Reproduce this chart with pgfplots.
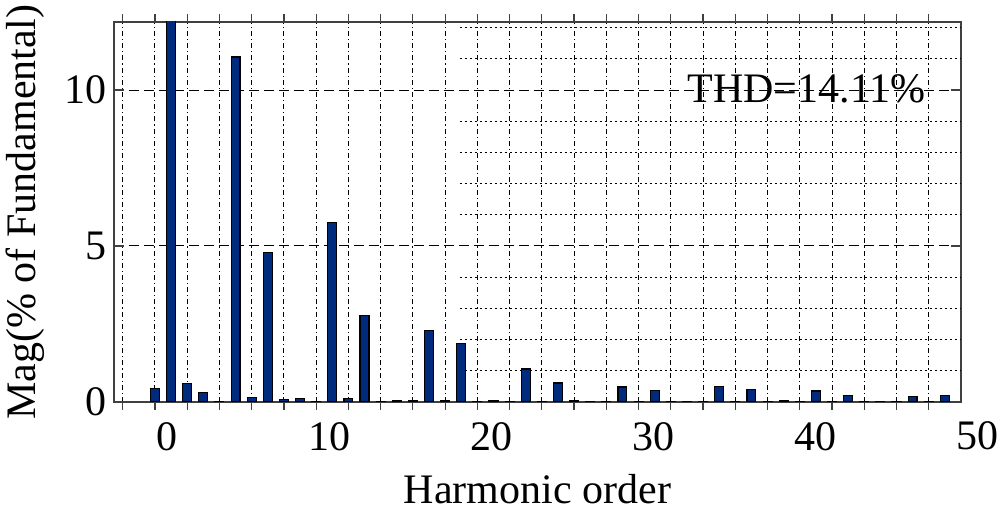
\documentclass[border=0pt]{standalone}
\usepackage{fontspec}
\setmainfont{Liberation Serif}
\usepackage{pgfplots}
\pgfplotsset{compat=1.18}
\usetikzlibrary{calc}
\definecolor{barblue}{RGB}{0,42,126}

\begin{document}
\begin{tikzpicture}[font=\fontsize{21}{25}\selectfont]
\begin{axis}[
  name=ax,
  scale only axis,
  width=423.5pt, height=190pt,
  xmin=-2.54, xmax=50, ymin=0, ymax=12.18,
  ybar, bar width=0.55,
  clip mode=individual,
  axis line style={black!75, line width=0.8pt},
  xtick={0.74,10.8,20.86,30.92,40.98},
  xticklabels={0,10,20,30,40},
  major x tick style={draw=none},
  minor xtick={-2,0,...,48},
  xminorgrids,
  minor x grid style={black, line width=0.5pt, dash pattern=on 2.5pt off 1.5pt on 0.6pt off 1.5pt},
  minor tick length=4pt,
  ytick={0,5,10}, yticklabels={0,5,10},
  ymajorgrids,
  major y grid style={black, line width=0.5pt, dash pattern=on 5pt off 2.5pt},
  major tick length=5pt,
  tick style={black!75, line width=0.6pt},
  xticklabel style={anchor=base, yshift=-19.5pt},
  xlabel={Harmonic order},
  xlabel style={at={(rel axis cs:0.5,0)}, anchor=base, yshift=-51pt},
]
% dotted minor horizontal grid on the right part
\pgfplotsinvokeforeach{1,2,3,4,6,7,8,9,11,12}{
  \draw[black, line width=0.5pt, dash pattern=on 1pt off 1.5pt] (axis cs:18.9,#1) -- (axis cs:50,#1);
}
\addplot[fill=barblue, draw=black, line width=0.6pt] table {
h mag
0 0.43
1 100
2 0.59
3 0.30
4 0.02
5 11.06
6 0.14
7 4.79
8 0.09
9 0.12
10 0.01
11 5.75
12 0.12
13 2.78
14 0.01
15 0.03
16 0.03
17 2.30
18 0.05
19 1.88
20 0.02
21 0.05
22 0.02
23 1.06
24 0.02
25 0.61
26 0.05
27 0.02
28 0.02
29 0.48
30 0.02
31 0.37
32 0.02
33 0.02
34 0.02
35 0.49
36 0.02
37 0.41
38 0.02
39 0.05
40 0.02
41 0.35
42 0.02
43 0.21
44 0.02
45 0.02
46 0.02
47 0.18
48 0.02
49 0.21
};
\node[anchor=base west] at (axis cs:32.6,9.6) {THD=14.11\%};
\node[anchor=base, yshift=-24pt] at (axis cs:51.04,0) {50};
\end{axis}
\node[rotate=90, anchor=center] at ($(ax.west)+(-44.25pt,0)$) {Mag(\% of Fundamental)};
\pgfresetboundingbox
\path ($(ax.south west)+(-57pt,-55.5pt)$) rectangle ($(ax.north east)+(19.5pt,11pt)$);
\end{tikzpicture}
\end{document}
